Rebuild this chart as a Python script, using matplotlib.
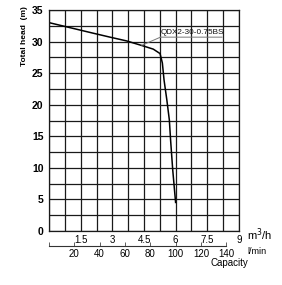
import matplotlib
matplotlib.use("Agg")
import matplotlib.pyplot as plt
import numpy as np

plt.rcParams['font.family'] = ['Liberation Sans', 'DejaVu Sans']

# Data (capacity in m3/h, head in m)
flow_m3h = [0.0, 1.0, 2.0, 2.89, 3.68, 4.47, 4.94, 5.26, 5.37, 5.45, 5.58, 5.70, 5.76, 5.86, 6.0]
head_m   = [33.0, 32.2, 31.4, 30.7, 30.1, 29.3, 28.8, 28.1, 26.6, 23.9, 20.8, 17.6, 14.4, 9.7, 4.4]

x_ticks = [1.5, 3, 4.5, 6, 7.5, 9]
x_tick_labels = ['1.5', '3', '4.5', '6', '7.5', '9']
y_ticks = [0, 5, 10, 15, 20, 25, 30, 35]
lmin_ticks = [0, 20, 40, 60, 80, 100, 120, 140]
lmin_labels = ['', '20', '40', '60', '80', '100', '120', '140']
model_label = 'QDX2-30-0.75BS'

W, H = 282, 285
fig = plt.figure(figsize=(W / 100, H / 100), dpi=100)
L, R, T, B = 49, 239, 10, 231
ax = fig.add_axes([L / W, 1 - B / H, (R - L) / W, (B - T) / H])
ax.set_xlim(0, 9)
ax.set_ylim(0, 35)

# grid
ax.set_xticks(np.arange(0, 9.01, 0.75), minor=True)
ax.set_yticks(np.arange(0, 35.01, 2.5), minor=True)
ax.grid(which='both', color='#1a1a1a', lw=0.9)
ax.tick_params(which='minor', length=0)
for s in ax.spines.values():
    s.set_color('#1a1a1a')
    s.set_linewidth(0.9)

ax.set_xticks(x_ticks)
ax.set_xticklabels(x_tick_labels, fontsize=7)
ax.set_yticks(y_ticks)
ax.set_yticklabels([str(v) for v in y_ticks], fontsize=7.5, fontweight='bold')
ax.tick_params(which='major', length=0)
ax.tick_params(axis='x', pad=3)
ax.tick_params(axis='y', pad=4)

# curve
ax.plot(flow_m3h, head_m, color='black', lw=1.1, solid_capstyle='butt')

# annotation
lead_pt = (4.39, 29.4)
text_pt = (5.28, 30.7)
text_end = 8.2
ax.annotate('', xy=lead_pt, xytext=text_pt,
            arrowprops=dict(arrowstyle='-', color='#777777', lw=0.7, shrinkA=0, shrinkB=0))
ax.annotate('', xy=(text_end, text_pt[1]), xytext=text_pt,
            arrowprops=dict(arrowstyle='-', color='#777777', lw=0.7, shrinkA=0, shrinkB=0))
ax.text(text_pt[0] + 0.02, text_pt[1] + 0.25, model_label, fontsize=5.9,
        ha='left', va='bottom', color='#111111')

# secondary l/min axis
sec = ax.secondary_xaxis(-15 / (B - T), functions=(lambda q: q * 1000 / 60,
                                                   lambda l: l * 60 / 1000))
sec.set_xticks(lmin_ticks)
sec.set_xticklabels(lmin_labels, fontsize=7)
sec.tick_params(direction='in', length=3, width=0.6, color='#444444', pad=2.5)
sec.spines['bottom'].set_bounds(0, 140)
sec.spines['bottom'].set_color('#333333')
sec.spines['bottom'].set_linewidth(0.8)

# labels
fig.text(25 / W, 1 - 36 / H, 'Total head  (m)', rotation=90, fontsize=6,
         fontweight='bold', ha='center', va='center')
fig.text(247 / W, 1 - 235 / H, 'm$^3$/h', fontsize=8, ha='left', va='center')
fig.text(247 / W, 1 - 252 / H, 'l/min', fontsize=6.5, ha='left', va='center')
fig.text(229 / W, 1 - 263 / H, 'Capacity', fontsize=7, ha='center', va='center')

fig.savefig('out.png', dpi=100)
